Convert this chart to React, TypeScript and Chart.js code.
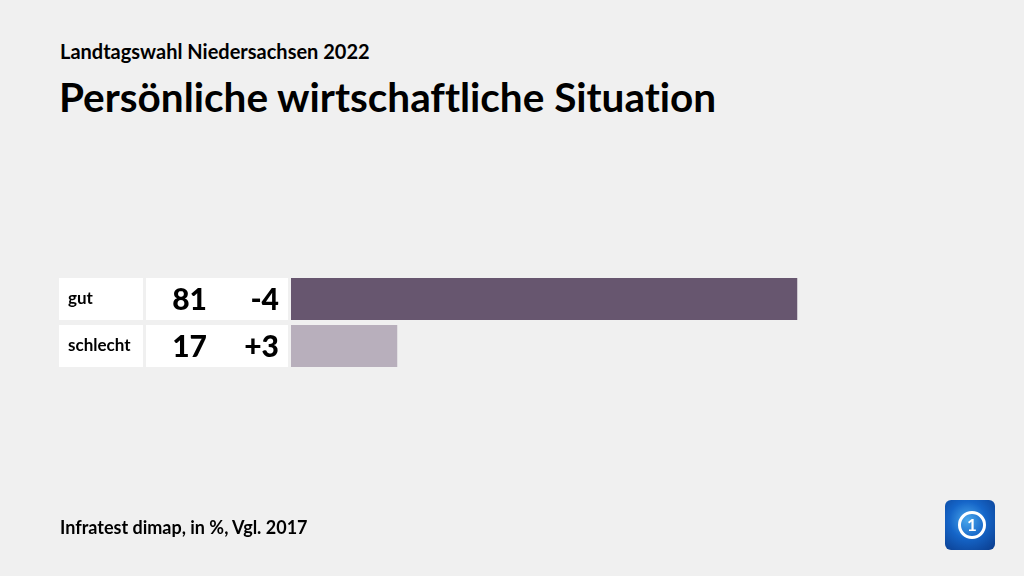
import React, { useEffect, useRef } from "react";
import { Chart, registerables } from "chart.js";

Chart.register(...registerables);

const categories = ["gut", "schlecht"];
const values = [81, 17];
const changes = ["-4", "+3"];
const barColors = ["#67566f", "#b8afbc"];

const FONT = "Lato, 'Open Sans', sans-serif";

const tablePlugin = {
  id: "tableCells",
  beforeDatasetsDraw(chart: any) {
    const ctx = chart.ctx;
    const meta = chart.getDatasetMeta(0);
    ctx.save();
    meta.data.forEach((bar: any, i: number) => {
      const h = bar.height;
      const top = bar.y - h / 2;
      ctx.fillStyle = "#ffffff";
      ctx.fillRect(59, top, 84, h);
      ctx.fillRect(146, top, 142, h);
      ctx.fillStyle = "#000000";
      ctx.textBaseline = "middle";
      ctx.textAlign = "left";
      ctx.font = `700 17px ${FONT}`;
      ctx.fillText(categories[i], 68, bar.y);
      ctx.textAlign = "right";
      ctx.font = `900 30px ${FONT}`;
      ctx.fillText(String(values[i]), 207, bar.y + 1);
      ctx.fillText(changes[i], 279, bar.y + 1);
    });
    ctx.restore();
  },
};

export default function App() {
  const ref = useRef<HTMLCanvasElement>(null);
  useEffect(() => {
    if (!ref.current) return;
    const chart = new Chart(ref.current, {
      type: "bar",
      data: {
        labels: categories,
        datasets: [
          {
            data: values,
            backgroundColor: barColors,
            borderWidth: 0,
            categoryPercentage: 1,
            barPercentage: 42 / 47,
          },
        ],
      },
      options: {
        indexAxis: "y",
        responsive: false,
        animation: false,
        layout: { padding: { left: 291, right: 108, top: 275.5, bottom: 206.5 } },
        plugins: { legend: { display: false }, tooltip: { enabled: false } },
        scales: {
          x: { display: false, min: 0, max: 100 },
          y: { display: false },
        },
      },
      plugins: [tablePlugin],
    });
    return () => chart.destroy();
  }, []);

  return (
    <div
      style={{
        position: "fixed",
        left: 0,
        top: 0,
        width: 1024,
        height: 576,
        background: "#f0f0f0",
        fontFamily: FONT,
        fontVariantLigatures: "none",
        color: "#000",
        overflow: "hidden",
      }}
    >
      <div style={{ position: "absolute", left: 60, top: 37, fontSize: 20, fontWeight: 700, lineHeight: "28px", whiteSpace: "nowrap" }}>
        Landtagswahl Niedersachsen 2022
      </div>
      <div style={{ position: "absolute", left: 59, top: 72, fontSize: 40.5, fontWeight: 700, lineHeight: "50px", whiteSpace: "nowrap" }}>
        Persönliche wirtschaftliche Situation
      </div>
      <canvas ref={ref} width={1024} height={576} style={{ position: "absolute", left: 0, top: 0, width: 1024, height: 576 }} />
      <div style={{ position: "absolute", left: 60, top: 515, fontSize: 18, fontWeight: 700, lineHeight: "24px", whiteSpace: "nowrap" }}>
        Infratest dimap, in %, Vgl. 2017
      </div>
      <div
        style={{
          position: "absolute",
          left: 945,
          top: 500,
          width: 50,
          height: 50,
          borderRadius: 6,
          background: "radial-gradient(circle at 45% 40%, #4aa8ec 0%, #1565c8 45%, #0a3a8a 100%)",
        }}
      >
        <div
          style={{
            position: "absolute",
            left: 13,
            top: 11,
            width: 22,
            height: 22,
            borderRadius: "50%",
            border: "3px solid #fff",
            color: "#fff",
            fontSize: 17,
            fontWeight: 700,
            lineHeight: "22px",
            textAlign: "center",
          }}
        >
          1
        </div>
      </div>
    </div>
  );
}
